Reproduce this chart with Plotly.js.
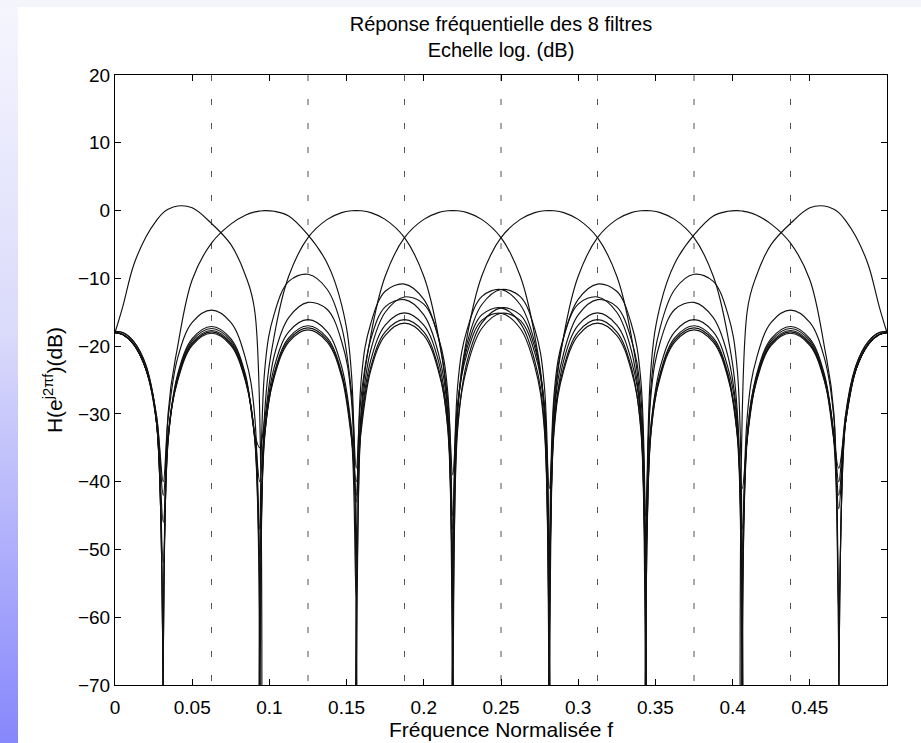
<!DOCTYPE html>
<html>
<head>
<meta charset="utf-8">
<script src="https://cdn.plot.ly/plotly-3.0.1.min.js"></script>
<style>
html,body{margin:0;padding:0;background:#fff;}
#strip{position:absolute;left:0;top:0;width:18px;height:743px;background:linear-gradient(to bottom,#f6f6fe 0%,#dadafb 45%,#8787fc 100%);}
#topband{position:absolute;left:0;top:0;width:921px;height:7px;background:#f4f5fb;}
#chart{position:absolute;left:0;top:0;width:921px;height:743px;}
</style>
</head>
<body>
<div id="strip"></div>
<div id="topband"></div>
<div id="chart"></div>
<script>
// Normalised frequency samples (shared by all 8 filters)
const freq = [0, 0.005, 0.012, 0.02, 0.027,
  0.03125,
  0.034375, 0.040625, 0.05, 0.0625, 0.075, 0.084375, 0.090625,
  0.09375,
  0.096875, 0.103125, 0.1125, 0.125, 0.1375, 0.146875, 0.153125,
  0.15625,
  0.159375, 0.165625, 0.175, 0.1875, 0.2, 0.209375, 0.215625,
  0.21875,
  0.221875, 0.228125, 0.2375, 0.25, 0.2625, 0.271875, 0.278125,
  0.28125,
  0.284375, 0.290625, 0.3, 0.3125, 0.325, 0.334375, 0.340625,
  0.34375,
  0.346875, 0.353125, 0.3625, 0.375, 0.3875, 0.396875, 0.403125,
  0.40625,
  0.409375, 0.415625, 0.425, 0.4375, 0.45, 0.459375, 0.465625,
  0.46875,
  0.473, 0.48, 0.488, 0.495, 0.5];

// Magnitude responses in dB (-150 = deep notch)
const filtre0 = [-18, -14.2, -8.1, -3.9, -1.4,
  -0.3,
  0.2, 0.68, 0.4, -1.9, -5.0, -9.5, -15,
  -150,
  -23.75, -15.25, -10.45, -9.4, -11.65, -17.25, -26.75,
  -38,
  -27.5, -19, -14.2, -13.15, -15.4, -21, -30.5,
  -150,
  -29.5, -21, -16.2, -15.15, -17.4, -23, -32.5,
  -150,
  -32.6, -23.6, -18.4, -16.6, -18.4, -23.6, -32.6,
  -150,
  -33.6, -24.6, -19.4, -17.6, -19.4, -24.6, -33.6,
  -150,
  -34.1, -25.1, -19.9, -18.1, -19.9, -25.1, -34.1,
  -150,
  -31.5, -23.4, -19.7, -18.3, -18];

const filtre1 = [-18, -18.3, -19.7, -23.4, -31.5,
  -150,
  -30, -20, -10.2, -4.8, -2.0, -0.7, -0.2,
  -0.07,
  0, -0.1, -0.8, -3.6, -7.8, -14, -24,
  -150,
  -25.2, -16.7, -11.9, -10.85, -13.1, -18.7, -28.2,
  -39,
  -28.7, -20.2, -15.4, -14.35, -16.6, -22.2, -31.7,
  -150,
  -32.1, -23.1, -17.9, -16.1, -17.9, -23.1, -32.1,
  -51,
  -33.3, -24.3, -19.1, -17.3, -19.1, -24.3, -33.3,
  -41,
  -33.9, -24.9, -19.7, -17.9, -19.7, -24.9, -33.9,
  -38,
  -31.5, -23.4, -19.7, -18.3, -18];

const filtre2 = [-17.8, -18.0, -19.3, -22.8, -30.5,
  -40,
  -30.7, -21.7, -16.5, -14.7, -16.5, -21.7, -30.7,
  -150,
  -30, -18.5, -9.7, -4.0, -1.3, -0.3, -0.03,
  0,
  -0.03, -0.3, -1.3, -4.0, -9.7, -18.5, -30,
  -150,
  -26, -17.5, -12.7, -11.65, -13.9, -19.5, -29,
  -41,
  -31.1, -22.1, -16.9, -15.1, -16.9, -22.1, -31.1,
  -150,
  -33, -24, -18.8, -17, -18.8, -24, -33,
  -47,
  -33.7, -24.7, -19.5, -17.7, -19.5, -24.7, -33.7,
  -44,
  -31.5, -23.4, -19.7, -18.3, -18];

const filtre3 = [-17.8, -18.0, -19.3, -22.8, -30.5,
  -42,
  -33.1, -24.1, -18.9, -17.1, -18.9, -24.1, -33.1,
  -35,
  -30.9, -21.4, -15.8, -13.55, -14.6, -19.4, -27.9,
  -150,
  -30, -18.5, -9.7, -4.0, -1.3, -0.3, -0.03,
  0,
  -0.03, -0.3, -1.3, -4.0, -9.7, -18.5, -30,
  -150,
  -27.1, -18.6, -13.8, -12.75, -15, -20.6, -30.1,
  -45,
  -32.1, -23.1, -17.9, -16.1, -17.9, -23.1, -32.1,
  -150,
  -33.4, -24.4, -19.2, -17.4, -19.2, -24.4, -33.4,
  -42,
  -31.5, -23.4, -19.7, -18.3, -18];

const filtre4 = [-18, -18.3, -19.7, -23.4, -31.5,
  -46,
  -33.4, -24.4, -19.2, -17.4, -19.2, -24.4, -33.4,
  -40,
  -32.1, -23.1, -17.9, -16.1, -17.9, -23.1, -32.1,
  -42,
  -30.1, -20.6, -15, -12.75, -13.8, -18.6, -27.1,
  -150,
  -30, -18.5, -9.7, -4.0, -1.3, -0.3, -0.03,
  0,
  -0.03, -0.3, -1.3, -4.0, -9.7, -18.5, -30,
  -150,
  -27.9, -19.4, -14.6, -13.55, -15.8, -21.4, -30.9,
  -50,
  -33.1, -24.1, -18.9, -17.1, -18.9, -24.1, -33.1,
  -40,
  -30.5, -22.8, -19.3, -18.0, -17.8];

const filtre5 = [-18, -18.3, -19.7, -23.4, -31.5,
  -52,
  -33.7, -24.7, -19.5, -17.7, -19.5, -24.7, -33.7,
  -47,
  -33, -24, -18.8, -17, -18.8, -24, -33,
  -43,
  -31.1, -22.1, -16.9, -15.1, -16.9, -22.1, -31.1,
  -45,
  -29, -19.5, -13.9, -11.65, -12.7, -17.5, -26,
  -150,
  -30, -18.5, -9.7, -4.0, -1.3, -0.3, -0.03,
  0,
  -0.03, -0.3, -1.3, -4.0, -9.7, -18.5, -30,
  -150,
  -30.7, -21.7, -16.5, -14.7, -16.5, -21.7, -30.7,
  -59,
  -30.5, -22.8, -19.3, -18.0, -17.8];

const filtre6 = [-18, -18.3, -19.7, -23.4, -31.5,
  -150,
  -33.9, -24.9, -19.7, -17.9, -19.7, -24.9, -33.9,
  -51,
  -33.3, -24.3, -19.1, -17.3, -19.1, -24.3, -33.3,
  -57,
  -32.1, -23.1, -17.9, -16.1, -17.9, -23.1, -32.1,
  -47,
  -31.7, -22.2, -16.6, -14.35, -15.4, -20.2, -28.7,
  -52,
  -28.2, -18.7, -13.1, -10.85, -11.9, -16.7, -25.2,
  -150,
  -24, -14, -7.8, -3.6, -0.8, -0.1, 0,
  -0.07,
  -0.2, -0.7, -2.0, -4.8, -10.2, -20, -30,
  -150,
  -31.5, -23.4, -19.7, -18.3, -18];

const filtre7 = [-18, -18.3, -19.7, -23.4, -31.5,
  -150,
  -34.1, -25.1, -19.9, -18.1, -19.9, -25.1, -34.1,
  -150,
  -33.6, -24.6, -19.4, -17.6, -19.4, -24.6, -33.6,
  -40,
  -32.6, -23.6, -18.4, -16.6, -18.4, -23.6, -32.6,
  -150,
  -32.5, -23, -17.4, -15.15, -16.2, -21, -29.5,
  -150,
  -30.5, -21, -15.4, -13.15, -14.2, -19, -27.5,
  -150,
  -26.75, -17.25, -11.65, -9.4, -10.45, -15.25, -23.75,
  -150,
  -15, -9.5, -5.0, -1.9, 0.4, 0.68, 0.2,
  -0.3,
  -1.4, -3.9, -8.1, -14.2, -18];

// Dashed reference lines (band edges) and axis ticks
const bandEdges = [0.0625, 0.125, 0.1875, 0.25, 0.3125, 0.375, 0.4375];
const xTickVals = [0, 0.05, 0.1, 0.15, 0.2, 0.25, 0.3, 0.35, 0.4, 0.45];
const xTickText = ['0', '0.05', '0.1', '0.15', '0.2', '0.25', '0.3', '0.35', '0.4', '0.45'];
const yTickVals = [-70, -60, -50, -40, -30, -20, -10, 0, 10, 20];
const xRange = [0, 0.5];
const yRange = [-70, 20];

const filtres = [filtre0, filtre1, filtre2, filtre3, filtre4, filtre5, filtre6, filtre7];

const traces = [];
bandEdges.forEach(function (fx) {
  traces.push({
    x: [fx, fx], y: [yRange[1], yRange[0]],
    mode: 'lines', hoverinfo: 'skip', showlegend: false,
    line: {color: '#555', width: 1, dash: '6px,18px'}
  });
});
filtres.forEach(function (h, k) {
  traces.push({
    x: freq, y: h, name: 'filtre ' + k,
    mode: 'lines', showlegend: false,
    line: {color: '#111', width: 1.15, shape: 'spline', smoothing: 1}
  });
});

const axisCommon = {
  ticks: 'inside', ticklen: 6, tickcolor: '#000', tickwidth: 1,
  showline: true, linecolor: '#000', linewidth: 1, mirror: 'ticks',
  showgrid: false, zeroline: false, tickfont: {size: 19, color: '#000'}
};

const layout = {
  width: 921, height: 743,
  margin: {l: 115, r: 34, t: 75, b: 58, pad: 0},
  paper_bgcolor: 'rgba(0,0,0,0)', plot_bgcolor: '#fff',
  font: {family: 'Liberation Sans, Arial, Helvetica, sans-serif', size: 19, color: '#000'},
  showlegend: false,
  title: {
    text: 'Réponse fréquentielle des 8 filtres<br>Echelle log. (dB)',
    font: {size: 20, color: '#000'},
    x: 0.5, xref: 'paper', xanchor: 'center',
    y: 0.958, yref: 'container', yanchor: 'top'
  },
  xaxis: Object.assign({}, axisCommon, {
    range: xRange, tickvals: xTickVals, ticktext: xTickText,
    ticklabelstandoff: 5,
    title: {text: 'Fréquence Normalisée f', font: {size: 21, color: '#000'}, standoff: 0}
  }),
  yaxis: Object.assign({}, axisCommon, {
    range: yRange, tickvals: yTickVals,
    title: {text: 'H(e<sup>j2πf</sup>)(dB)', font: {size: 21, color: '#000'}, standoff: 9}
  })
};

Plotly.newPlot('chart', traces, layout, {displayModeBar: false, staticPlot: true});
</script>
</body>
</html>
